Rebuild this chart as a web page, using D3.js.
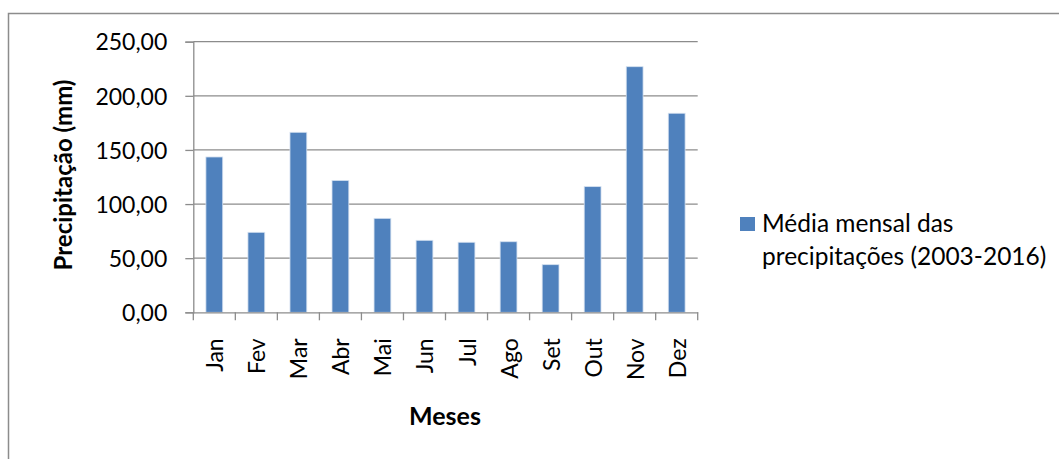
<!DOCTYPE html>
<html>
<head>
<meta charset="utf-8">
<script src="https://cdn.jsdelivr.net/npm/d3@7"></script>
<style>
  html, body { margin: 0; padding: 0; background: #fff; }
  svg { display: block; }
  text { font-family: Lato, "Open Sans", sans-serif; fill: #000; }
</style>
</head>
<body>
<svg id="chart" width="1059" height="459"></svg>
<script>
// Monthly mean precipitation (mm), 2003-2016
const months = ["Jan", "Fev", "Mar", "Abr", "Mai", "Jun", "Jul", "Ago", "Set", "Out", "Nov", "Dez"];
const precipitation = [143.5, 73.9, 166.3, 121.8, 86.8, 66.5, 64.7, 65.2, 44.0, 116.1, 226.9, 183.9];
const yTicks = [0, 50, 100, 150, 200, 250];
const seriesName = ["Média mensal das", "precipitações (2003-2016)"];
const yTitle = "Precipitação (mm)";
const xTitle = "Meses";

const svg = d3.select("#chart");
const plot = { left: 193.3, right: 697.7, top: 41.7, bottom: 312.3 };

const ptBR = d3.formatLocale({ decimal: ",", thousands: ".", grouping: [3], currency: ["R$", ""] });
const fmt = ptBR.format(".2f");

const x = d3.scaleBand().domain(months).range([plot.left, plot.right]).padding(0);
const y = d3.scaleLinear().domain([0, 250]).range([plot.bottom, plot.top]);

const axisGrey = "#8c8c8c";

// outer chart-area border
svg.append("rect")
  .attr("x", 8.5).attr("y", 13.5)
  .attr("width", 1100).attr("height", 500)
  .attr("fill", "none").attr("stroke", axisGrey).attr("stroke-width", 1.5);

// horizontal gridlines
svg.append("g")
  .selectAll("line")
  .data(yTicks.filter(v => v > 0))
  .join("line")
  .attr("x1", plot.left).attr("x2", plot.right)
  .attr("y1", d => y(d)).attr("y2", d => y(d))
  .attr("stroke", axisGrey).attr("stroke-width", 1.3);

// bars (gap width 150%)
const barW = x.bandwidth() / 2.5;
svg.append("g")
  .selectAll("rect")
  .data(months.map((m, i) => ({ m, v: precipitation[i] })))
  .join("rect")
  .attr("x", d => x(d.m) + (x.bandwidth() - barW) / 2)
  .attr("width", barW)
  .attr("y", d => y(d.v))
  .attr("height", d => y(0) - y(d.v))
  .attr("fill", "#4f81bd")
  .attr("stroke", "#d5e1f0").attr("stroke-width", 0.8);

// y axis
const yAxis = svg.append("g")
  .attr("transform", `translate(${plot.left},0)`)
  .call(d3.axisLeft(y).tickValues(yTicks).tickSize(8).tickPadding(18).tickFormat(fmt));
yAxis.select(".domain").attr("stroke", axisGrey).attr("stroke-width", 1.3);
yAxis.selectAll(".tick line").attr("stroke", axisGrey).attr("stroke-width", 1.3);
yAxis.selectAll(".tick text").style("font-size", "23px").attr("dy", "0.36em");

// x axis: boundary ticks between categories, labels centred and rotated
const xAxis = svg.append("g")
  .attr("transform", `translate(0,${plot.bottom})`)
  .call(d3.axisBottom(x).tickSize(0).tickPadding(0));
xAxis.select(".domain").attr("stroke", axisGrey).attr("stroke-width", 1.3);
xAxis.selectAll(".tick text")
  .style("font-size", "23px")
  .attr("text-anchor", "end")
  .attr("transform", "translate(9,26) rotate(-90)")
  .attr("dy", 0).attr("y", 0).attr("x", 0);

svg.append("g")
  .selectAll("line")
  .data(months.map(m => x(m)).concat([plot.right]))
  .join("line")
  .attr("x1", d => d).attr("x2", d => d)
  .attr("y1", plot.bottom).attr("y2", plot.bottom + 8)
  .attr("stroke", axisGrey).attr("stroke-width", 1.3);

// axis titles
svg.append("text")
  .attr("transform", "translate(72,175) rotate(-90)")
  .attr("text-anchor", "middle")
  .style("font-size", "24px").style("font-weight", "bold")
  .text(yTitle);

svg.append("text")
  .attr("x", 445).attr("y", 425)
  .attr("text-anchor", "middle")
  .style("font-size", "25px").style("font-weight", "bold")
  .text(xTitle);

// legend
const legend = svg.append("g");
legend.append("rect")
  .attr("x", 740).attr("y", 217).attr("width", 15).attr("height", 14)
  .attr("fill", "#4f81bd");
legend.selectAll("text")
  .data(seriesName)
  .join("text")
  .attr("x", 762).attr("y", (d, i) => 232 + i * 33)
  .style("font-size", "24.5px")
  .text(d => d);
</script>
</body>
</html>
